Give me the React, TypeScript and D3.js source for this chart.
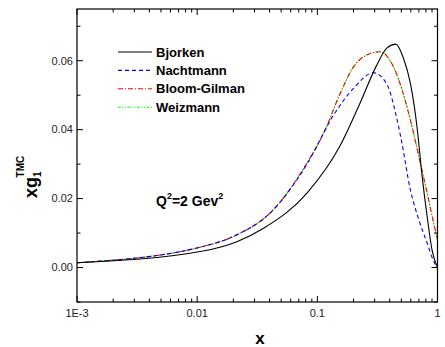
import React from "react";
import * as d3 from "d3";

const xBj = [0.001, 0.0112, 0.0214, 0.0357, 0.082, 0.155, 0.228, 0.31, 0.38, 0.45, 0.52, 0.595, 0.68, 0.74, 0.82, 0.9, 1.0];
const bjorken = [0.0014, 0.0048, 0.0075, 0.0114, 0.0216, 0.0354, 0.0479, 0.0585, 0.0637, 0.0648, 0.0608, 0.0534, 0.0399, 0.0274, 0.0148, 0.0051, 0.0];

const xNa = [0.001, 0.0112, 0.0214, 0.0404, 0.082, 0.137, 0.2, 0.294, 0.381, 0.45, 0.5, 0.595, 0.7, 0.82, 0.92, 1.0];
const nachtmann = [0.0014, 0.0061, 0.0095, 0.0158, 0.03, 0.0443, 0.052, 0.0565, 0.053, 0.0445, 0.037, 0.0225, 0.0138, 0.0071, 0.0022, 0.0];

const xBG = [0.001, 0.0112, 0.0214, 0.0404, 0.082, 0.113, 0.155, 0.2, 0.259, 0.335, 0.433, 0.595, 0.72, 0.82, 0.93, 1.0];
const bloomGilman = [0.0014, 0.0061, 0.0095, 0.0158, 0.0303, 0.039, 0.0505, 0.0582, 0.0617, 0.0626, 0.058, 0.0428, 0.0303, 0.0216, 0.0129, 0.0082];
const weizmann = [0.0014, 0.0061, 0.0095, 0.0158, 0.0303, 0.039, 0.0505, 0.0582, 0.0617, 0.0626, 0.058, 0.0428, 0.0303, 0.0216, 0.0128, 0.0076];

const yMajor = [0, 0.02, 0.04, 0.06];
const yMajorLabels = ["0.00", "0.02", "0.04", "0.06"];
const yMinor = [-0.01, 0.01, 0.03, 0.05, 0.07];
const xMajor = [0.001, 0.01, 0.1, 1];
const xMajorLabels = ["1E-3", "0.01", "0.1", "1"];

const seriesNames = ["Bjorken", "Nachtmann", "Bloom-Gilman", "Weizmann"];

export default function App() {
  const W = 445, H = 347;
  const L = 77, R = 437.5, T = 9, B = 302;
  const x = d3.scaleLog().domain([0.001, 1]).range([L, R]);
  const y = d3.scaleLinear().domain([-0.01, 0.075]).range([B, T]);

  const line = (xs: number[], ys: number[]) =>
    d3.line<number>().x((_, i) => x(xs[i])).y((d) => y(d)).curve(d3.curveMonotoneX)(ys) || "";

  const series = [
    { name: seriesNames[0], xs: xBj, ys: bjorken, color: "#000000", dash: "" },
    { name: seriesNames[1], xs: xNa, ys: nachtmann, color: "#0000ff", dash: "4 3" },
    { name: seriesNames[2], xs: xBG, ys: bloomGilman, color: "#ff0000", dash: "5 2 1 2" },
    { name: seriesNames[3], xs: xBG, ys: weizmann, color: "#00ff00", dash: "3 1.5 1 1.5 1 1.5" },
  ];

  const xMinor: number[] = [];
  for (let dec = 0.001; dec < 1; dec *= 10) {
    for (let k = 2; k <= 9; k++) xMinor.push(dec * k);
  }

  const font = "Arial, 'Liberation Sans', sans-serif";
  const maj = 6, minr = 3.5;

  return (
    <svg width={W} height={H} style={{ position: "absolute", left: 0, top: 0, background: "#fff" }} fontFamily={font}>
      <rect x={0} y={0} width={W} height={H} fill="#fff" />
      <g fill="none" strokeWidth={1.1}>
        {series.slice().reverse().map((s) => (
          <path key={s.name} d={line(s.xs, s.ys)} stroke={s.color} strokeDasharray={s.dash || undefined} />
        ))}
      </g>
      <rect x={L} y={T} width={R - L} height={B - T} fill="none" stroke="#000" strokeWidth={1.2} />
      <g stroke="#000" strokeWidth={1}>
        {yMajor.map((v) => (
          <g key={"ym" + v}>
            <line x1={L} x2={L + maj} y1={y(v)} y2={y(v)} />
            <line x1={R} x2={R - maj} y1={y(v)} y2={y(v)} />
          </g>
        ))}
        {yMinor.map((v) => (
          <g key={"yn" + v}>
            <line x1={L} x2={L + minr} y1={y(v)} y2={y(v)} />
            <line x1={R} x2={R - minr} y1={y(v)} y2={y(v)} />
          </g>
        ))}
        {xMajor.map((v) => (
          <g key={"xm" + v}>
            <line x1={x(v)} x2={x(v)} y1={B} y2={B - maj} />
            <line x1={x(v)} x2={x(v)} y1={T} y2={T + maj} />
          </g>
        ))}
        {xMinor.map((v) => (
          <g key={"xn" + v}>
            <line x1={x(v)} x2={x(v)} y1={B} y2={B - minr} />
            <line x1={x(v)} x2={x(v)} y1={T} y2={T + minr} />
          </g>
        ))}
      </g>
      <g fontSize={11} fill="#222">
        {yMajor.map((v, i) => (
          <text key={"yl" + v} x={L - 4} y={y(v)} dy="0.35em" textAnchor="end">{yMajorLabels[i]}</text>
        ))}
        {xMajor.map((v, i) => (
          <text key={"xl" + v} x={x(v)} y={B + 15} textAnchor="middle">{xMajorLabels[i]}</text>
        ))}
      </g>
      <text x={260} y={344} fontSize={17} fontWeight="bold" textAnchor="middle">x</text>
      <g transform="translate(37,198) rotate(-90)">
        <text x={0} y={0} fontSize={18} fontWeight="bold">
          xg
          <tspan fontSize={10} dy={4}>1</tspan>
          <tspan fontSize={10} dx={-6} dy={-17}>TMC</tspan>
        </text>
      </g>
      <text x={156} y={206} fontSize={14} fontWeight="bold">
        Q<tspan fontSize={9} dy={-7}>2</tspan><tspan dy={7}>=2 Gev</tspan><tspan fontSize={9} dy={-7}>2</tspan>
      </text>
      {series.map((s, i) => {
        const ly = 52 + i * 18.4;
        return (
          <g key={"lg" + s.name}>
            <line x1={118} x2={152} y1={ly} y2={ly} stroke={s.color} strokeWidth={1.1} strokeDasharray={s.dash || undefined} />
            <text x={156} y={ly} dy="0.35em" fontSize={13} fontWeight="bold">{s.name}</text>
          </g>
        );
      })}
    </svg>
  );
}
